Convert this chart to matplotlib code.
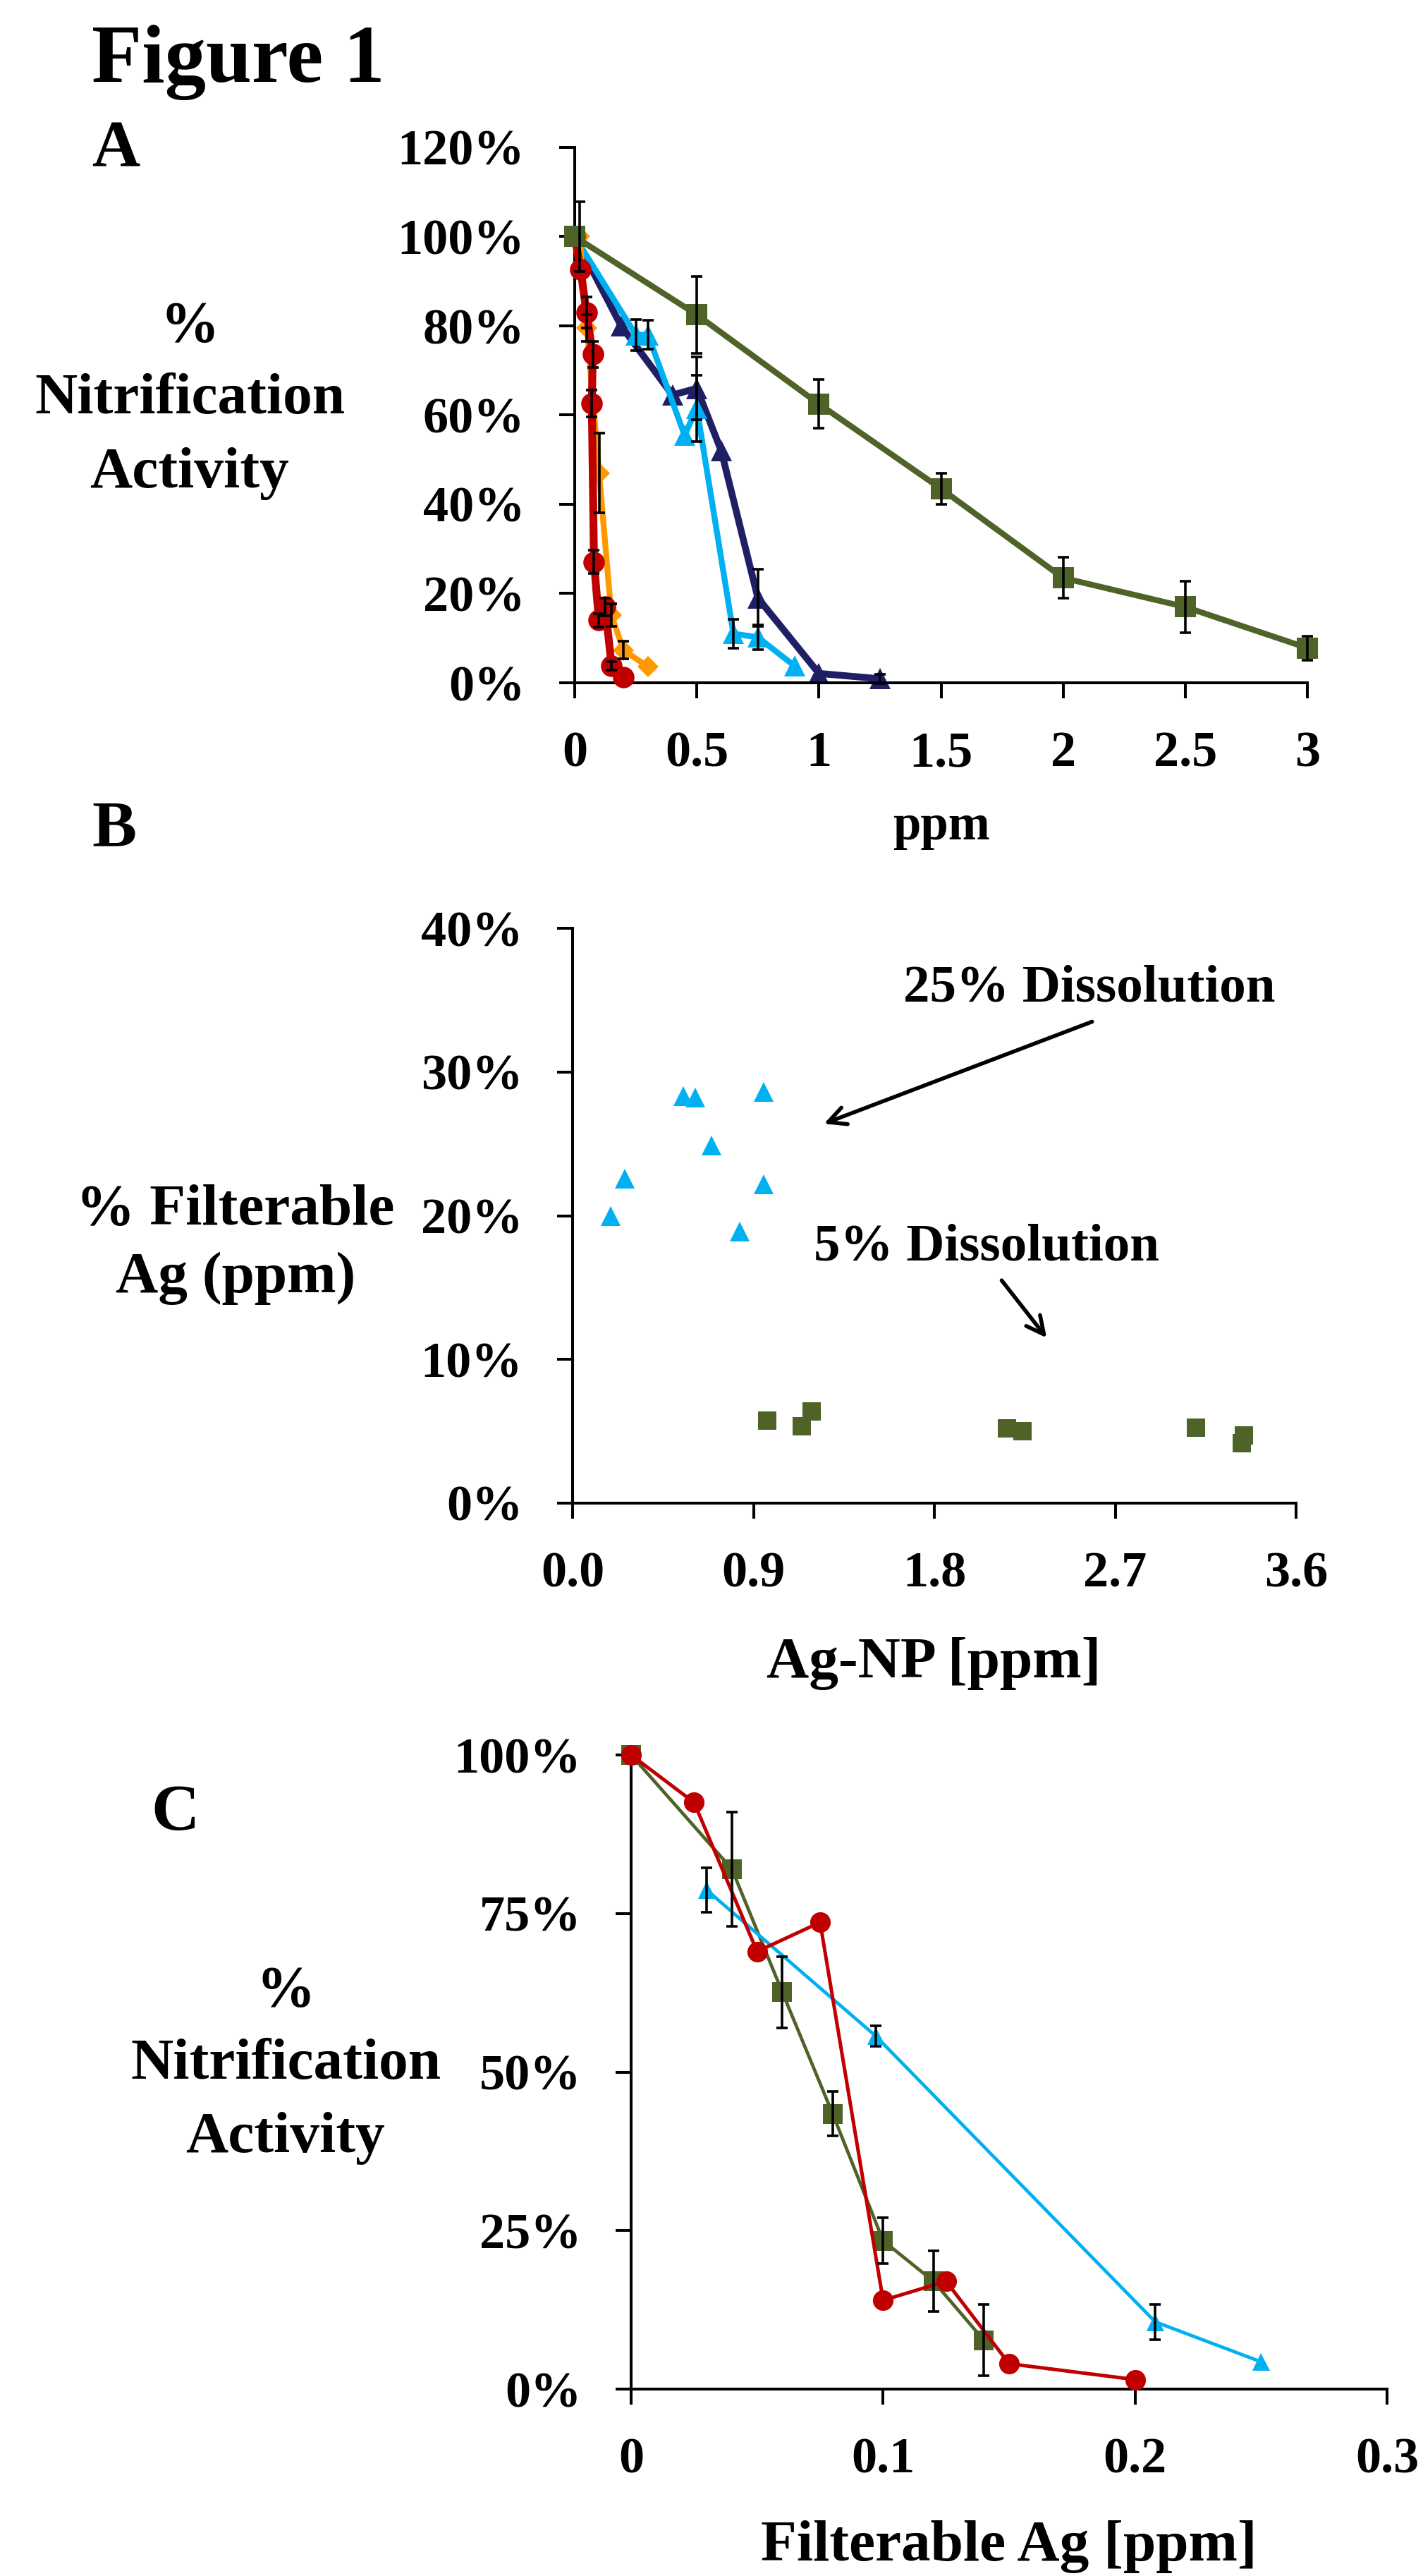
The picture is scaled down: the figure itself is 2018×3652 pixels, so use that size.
import numpy as np
import matplotlib
matplotlib.use("Agg")
import matplotlib.pyplot as plt
from matplotlib.ticker import FuncFormatter

plt.rcParams['font.family'] = ['Liberation Serif', 'DejaVu Serif']
plt.rcParams['font.weight'] = 'bold'

W, H = 2018, 3652

# ---- panel A : % nitrification activity vs ppm ----
a_green_x = [0, 0.5, 1, 1.5, 2, 2.5, 3]
a_green_y = [100, 82.5, 62.5, 43.5, 23.5, 17, 7.8]
a_green_err = [0, 8.6, 5.5, 3.5, 4.6, 5.7, 2.7]

a_navy_x = [0, 0.19, 0.4, 0.5, 0.6, 0.75, 1.0, 1.25]
a_navy_y = [100, 80, 64.5, 66, 52, 19, 2.1, 0.9]
a_navy_err = [0, 0, 0, 7, 0, 6.4, 0, 1]

a_cyan_x = [0, 0.25, 0.3, 0.45, 0.5, 0.65, 0.75, 0.9]
a_cyan_y = [100, 78, 78, 55.5, 61.5, 11, 10.2, 3.8]
a_cyan_err = [0, 3.5, 3.2, 0, 7.4, 3.3, 2.7, 0]

a_orange_x = [0.02, 0.05, 0.1, 0.15, 0.2, 0.3]
a_orange_y = [100, 79.6, 47, 15.2, 7.3, 3.6]
a_orange_err = [7.8, 3, 8.9, 2.5, 2, 0]

a_red_x = [0, 0.024, 0.048, 0.074, 0.07, 0.079, 0.099, 0.125, 0.151, 0.199]
a_red_y = [100, 92.7, 83, 73.6, 62.6, 27.1, 14, 17, 3.8, 1.3]
a_red_err = [0, 0, 3.5, 3, 3, 2.6, 1.5, 2, 1, 0]

a_xticks = [0, 0.5, 1, 1.5, 2, 2.5, 3]
a_yticks = [0, 20, 40, 60, 80, 100, 120]

# ---- panel B : % filterable Ag vs Ag-NP ----
b_cyan_x = [0.19, 0.26, 0.55, 0.61, 0.69, 0.83, 0.95, 0.95]
b_cyan_y = [20.0, 22.6, 28.3, 28.2, 24.9, 18.9, 28.6, 22.2]
b_green_x = [0.97, 1.14, 1.19, 2.16, 2.24, 3.10, 3.34, 3.33]
b_green_y = [5.75, 5.33, 6.4, 5.2, 5.0, 5.27, 4.7, 4.15]
b_xticks = [0.0, 0.9, 1.8, 2.7, 3.6]
b_yticks = [0, 10, 20, 30, 40]

# ---- panel C : % nitrification activity vs filterable Ag ----
c_green_x = [0, 0.04, 0.06, 0.08, 0.1, 0.12, 0.14]
c_green_y = [100, 82, 62.6, 43.4, 23.4, 17, 7.7]
c_green_err = [0, 9, 5.6, 3.5, 3.6, 4.8, 5.6]

c_red_x = [0, 0.025, 0.05, 0.075, 0.1, 0.125, 0.15, 0.2]
c_red_y = [100, 92.5, 69, 73.6, 14, 17, 4, 1.5]

c_cyan_x = [0.03, 0.097, 0.208, 0.25]
c_cyan_y = [78.7, 55.7, 10.6, 4.3]
c_cyan_err = [3.5, 1.6, 2.8, 0]

c_xticks = [0, 0.1, 0.2, 0.3]
c_yticks = [0, 25, 50, 75, 100]

GREEN = '#4F6228'
NAVY = '#1F1F66'
CYAN = '#00B0F0'
ORANGE = '#FF9900'
RED = '#C00000'

TICK_FS = 52
LABEL_FS = 60


def px(x, y):
    return x / W, 1 - y / H


def make_axes(fig, left, top, right, bottom):
    ax = fig.add_axes([left / W, 1 - bottom / H, (right - left) / W, (bottom - top) / H])
    for s in ['top', 'right']:
        ax.spines[s].set_visible(False)
    for s in ['left', 'bottom']:
        ax.spines[s].set_linewidth(2.9)
    ax.tick_params(axis='both', direction='out', length=16, width=2.9, labelsize=TICK_FS)
    ax.tick_params(axis='x', pad=33)
    ax.tick_params(axis='y', pad=35)
    return ax


def errbars(ax, x, y, err):
    x = np.array(x)
    y = np.array(y)
    err = np.array(err)
    m = err > 0
    ax.errorbar(x[m], y[m], yerr=err[m], fmt='none', ecolor='black',
                elinewidth=2.6, capsize=6, capthick=2.6, zorder=10, clip_on=False)


pct = FuncFormatter(lambda v, p: f"{v:.0f}%")
gfmt = FuncFormatter(lambda v, p: f"{v:g}")

fig = plt.figure(figsize=(W / 100, H / 100), dpi=100)

# ---------------- A ----------------
axA = make_axes(fig, 815, 209, 1854, 968)
axA.plot(a_navy_x, a_navy_y, color=NAVY, lw=7, marker='^', ms=22, mew=0, zorder=2, clip_on=False)
axA.plot(a_cyan_x, a_cyan_y, color=CYAN, lw=6, marker='^', ms=22, mew=0, zorder=3, clip_on=False)
axA.plot(a_orange_x, a_orange_y, color=ORANGE, lw=6, marker='D', ms=15, mew=0, zorder=4, clip_on=False)
axA.plot(a_red_x, a_red_y, color=RED, lw=8, marker='o', ms=22, mew=0, zorder=5, clip_on=False)
axA.plot(a_green_x, a_green_y, color=GREEN, lw=6, marker='s', ms=21, mew=0, zorder=6, clip_on=False)
for xs, ys, es in [(a_green_x, a_green_y, a_green_err), (a_navy_x, a_navy_y, a_navy_err),
                   (a_cyan_x, a_cyan_y, a_cyan_err), (a_orange_x, a_orange_y, a_orange_err),
                   (a_red_x, a_red_y, a_red_err)]:
    errbars(axA, xs, ys, es)
axA.set_xlim(0, 3)
axA.set_ylim(0, 120)
axA.set_xticks(a_xticks)
axA.set_yticks(a_yticks)
axA.xaxis.set_major_formatter(gfmt)
axA.yaxis.set_major_formatter(pct)

# ---------------- B ----------------
axB = make_axes(fig, 812, 1316, 1838, 2131)
axB.plot(b_cyan_x, b_cyan_y, ls='none', marker='^', ms=20, mew=0, color=CYAN, clip_on=False)
axB.plot(b_green_x, b_green_y, ls='none', marker='s', ms=19, mew=0, color=GREEN, clip_on=False)
axB.set_xlim(0, 3.6)
axB.set_ylim(0, 40)
axB.set_xticks(b_xticks)
axB.set_yticks(b_yticks)
axB.xaxis.set_major_formatter(FuncFormatter(lambda v, p: f"{v:.1f}"))
axB.yaxis.set_major_formatter(pct)
arrow = dict(arrowstyle='->', color='black', lw=4, mutation_scale=45, shrinkA=0, shrinkB=0)
axB.annotate('', xy=(1.251, 26.4), xytext=(2.585, 33.5), arrowprops=arrow)
axB.annotate('', xy=(2.359, 11.5), xytext=(2.135, 15.5), arrowprops=arrow)
axB.text(2.57, 34.9, '25% Dissolution', fontsize=54, ha='center', va='baseline')
axB.text(2.06, 16.9, '5% Dissolution', fontsize=54, ha='center', va='baseline')

# ---------------- C ----------------
axC = make_axes(fig, 895, 2488, 1967, 3387)
axC.plot(c_green_x, c_green_y, color=GREEN, lw=3.4, marker='s', ms=20, mew=0, zorder=3, clip_on=False)
axC.plot(c_cyan_x, c_cyan_y, color=CYAN, lw=3.4, marker='^', ms=18, mew=0, zorder=4, clip_on=False)
axC.plot(c_red_x, c_red_y, color=RED, lw=3.6, marker='o', ms=21, mew=0, zorder=5, clip_on=False)
errbars(axC, c_green_x, c_green_y, c_green_err)
errbars(axC, c_cyan_x, c_cyan_y, c_cyan_err)
axC.set_xlim(0, 0.3)
axC.set_ylim(0, 100)
axC.set_xticks(c_xticks)
axC.set_yticks(c_yticks)
axC.xaxis.set_major_formatter(gfmt)
axC.yaxis.set_major_formatter(pct)

# ---------------- texts ----------------
fig.text(*px(130, 116), 'Figure 1', fontsize=84, ha='left', va='baseline')
fig.text(*px(130, 235), 'A', fontsize=68, ha='left', va='baseline')
fig.text(*px(130, 1199), 'B', fontsize=68, ha='left', va='baseline')
fig.text(*px(214, 2594), 'C', fontsize=68, ha='left', va='baseline')

for cx, ys in [(269, (484, 586, 691)), (405, (2844, 2947, 3051))]:
    for txt, yy in zip(['%', 'Nitrification', 'Activity'], ys):
        fig.text(*px(cx, yy), txt, fontsize=LABEL_FS, ha='center', va='baseline')

fig.text(*px(334, 1736), '% Filterable', fontsize=LABEL_FS, ha='center', va='baseline')
fig.text(*px(334, 1832), 'Ag (ppm)', fontsize=LABEL_FS, ha='center', va='baseline')

fig.text(*px(1335, 1190), 'ppm', fontsize=51, ha='center', va='baseline')
fig.text(*px(1324, 2378), 'Ag-NP [ppm]', fontsize=LABEL_FS, ha='center', va='baseline')
fig.text(*px(1431, 3630), 'Filterable Ag [ppm]', fontsize=LABEL_FS, ha='center', va='baseline')

fig.savefig('out.png', dpi=100)
